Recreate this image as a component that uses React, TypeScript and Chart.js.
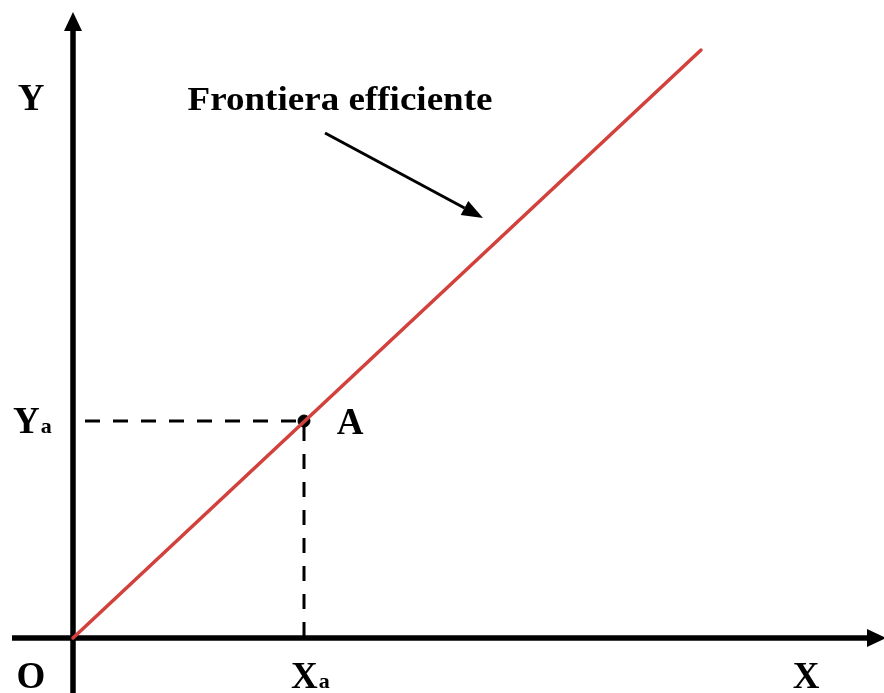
import React, { useEffect, useRef } from "react";
import { Chart, registerables } from "chart.js";

Chart.register(...registerables);

// Axis extents (data units, origin O at 0,0)
const xRange = [-0.73, 8.11];
const yRange = [-0.55, 6.38];

// Efficient frontier: straight line out of the origin
const frontierX = [0, 6.28];
const frontierY = [0, 5.88];

// Point A on the frontier
const pointAX = [2.31];
const pointAY = [2.17];

// Axis arrows: y axis runs from bottom edge to arrow tip, x axis from left stub to arrow tip
const yAxisSpan = [-0.55, 6.26];
const xAxisSpan = [-0.61, 8.13];

// Callout arrow for the frontier label: tail and head
const calloutX = [2.52, 4.1];
const calloutY = [5.05, 4.2];

const labelText = {
  frontier: "Frontiera efficiente",
  y: "Y",
  x: "X",
  origin: "O",
  point: "A",
  sub: "a",
};

const SERIF = '"Liberation Serif", "Times New Roman", serif';

const annotate = {
  id: "annotate",
  beforeDatasetsDraw(chart: any) {
    const { ctx, scales } = chart;
    const xs = scales.x;
    const ys = scales.y;
    const ox = xs.getPixelForValue(0);
    const oy = ys.getPixelForValue(0);
    ctx.save();
    ctx.strokeStyle = "#000";
    ctx.fillStyle = "#000";
    ctx.lineWidth = 5.5;
    // y axis
    const yTop = ys.getPixelForValue(yAxisSpan[1]);
    const yBot = ys.getPixelForValue(yAxisSpan[0]);
    ctx.beginPath();
    ctx.moveTo(ox, yBot);
    ctx.lineTo(ox, yTop + 14);
    ctx.stroke();
    ctx.beginPath();
    ctx.moveTo(ox, yTop);
    ctx.lineTo(ox - 9, yTop + 19);
    ctx.lineTo(ox + 9, yTop + 19);
    ctx.closePath();
    ctx.fill();
    // x axis
    const xL = xs.getPixelForValue(xAxisSpan[0]);
    const xR = xs.getPixelForValue(xAxisSpan[1]);
    ctx.beginPath();
    ctx.moveTo(xL, oy);
    ctx.lineTo(xR - 14, oy);
    ctx.stroke();
    ctx.beginPath();
    ctx.moveTo(xR, oy);
    ctx.lineTo(xR - 19, oy - 9);
    ctx.lineTo(xR - 19, oy + 9);
    ctx.closePath();
    ctx.fill();
    ctx.restore();
  },
  afterDatasetsDraw(chart: any) {
    const { ctx, scales } = chart;
    const xs = scales.x;
    const ys = scales.y;
    const px = (v: number) => xs.getPixelForValue(v);
    const py = (v: number) => ys.getPixelForValue(v);
    const ax = px(pointAX[0]);
    const ay = py(pointAY[0]);
    const ox = px(0);
    const oy = py(0);
    ctx.save();
    ctx.fillStyle = "#000";
    ctx.strokeStyle = "#000";
    ctx.textBaseline = "alphabetic";

    // callout arrow
    const tx = px(calloutX[0]);
    const ty = py(calloutY[0]);
    const hx = px(calloutX[1]);
    const hy = py(calloutY[1]);
    const ang = Math.atan2(hy - ty, hx - tx);
    const headLen = 21;
    const headW = 8;
    const bx = hx - headLen * Math.cos(ang);
    const by = hy - headLen * Math.sin(ang);
    ctx.lineWidth = 3;
    ctx.beginPath();
    ctx.moveTo(tx, ty);
    ctx.lineTo(bx, by);
    ctx.stroke();
    ctx.beginPath();
    ctx.moveTo(hx, hy);
    ctx.lineTo(bx + headW * Math.sin(ang), by - headW * Math.cos(ang));
    ctx.lineTo(bx - headW * Math.sin(ang), by + headW * Math.cos(ang));
    ctx.closePath();
    ctx.fill();

    // frontier label
    ctx.font = `bold 34px ${SERIF}`;
    ctx.textAlign = "center";
    const fw = ctx.measureText(labelText.frontier).width;
    ctx.save();
    ctx.translate(ox + 267, py(yAxisSpan[1]) + 98);
    ctx.scale(305 / fw, 1);
    ctx.fillText(labelText.frontier, 0, 0);
    ctx.restore();

    // axis labels
    ctx.font = `bold 37px ${SERIF}`;
    ctx.textAlign = "center";
    ctx.fillText(labelText.y, ox - 42, py(yAxisSpan[1]) + 98);
    ctx.fillText(labelText.origin, ox - 42, oy + 50);
    ctx.fillText(labelText.x, px(xAxisSpan[1]) - 80, oy + 50);
    ctx.fillText(labelText.point, ax + 46, ay + 13);

    // subscripted labels Ya and Xa
    ctx.textAlign = "left";
    ctx.font = `bold 37px ${SERIF}`;
    const yw = ctx.measureText(labelText.y).width;
    const yx = ox - 60;
    ctx.fillText(labelText.y, yx, ay + 12);
    ctx.font = `bold 22px ${SERIF}`;
    ctx.fillText(labelText.sub, yx + yw + 1, ay + 12);
    ctx.font = `bold 37px ${SERIF}`;
    const xw = ctx.measureText(labelText.x).width;
    const xx = ax - 13;
    ctx.fillText(labelText.x, xx, oy + 50);
    ctx.font = `bold 22px ${SERIF}`;
    ctx.fillText(labelText.sub, xx + xw + 1, oy + 50);
    ctx.restore();
  },
};

export default function App() {
  const ref = useRef<HTMLCanvasElement | null>(null);

  useEffect(() => {
    if (!ref.current) return;
    const chart = new Chart(ref.current, {
      type: "scatter",
      data: {
        datasets: [
          {
            type: "line",
            data: frontierX.map((x, i) => ({ x, y: frontierY[i] })),
            borderColor: "#d2413c",
            borderWidth: 3.5,
            pointRadius: 0,
            borderCapStyle: "round",
            clip: false,
          } as any,
          {
            type: "line",
            data: [
              { x: 0.12, y: pointAY[0] },
              { x: pointAX[0], y: pointAY[0] },
              { x: pointAX[0], y: 0 },
            ],
            borderColor: "#000",
            borderWidth: 3,
            borderDash: [15, 13],
            pointRadius: 0,
            clip: false,
          } as any,
          {
            data: pointAX.map((x, i) => ({ x, y: pointAY[i] })),
            backgroundColor: "#000",
            borderColor: "#000",
            pointRadius: 6,
            clip: false,
          } as any,
        ],
      },
      options: {
        animation: false,
        responsive: false,
        maintainAspectRatio: false,
        devicePixelRatio: 1,
        layout: { padding: 0, autoPadding: false },
        plugins: { legend: { display: false }, tooltip: { enabled: false } },
        scales: {
          x: { type: "linear", min: xRange[0], max: xRange[1], display: false },
          y: { type: "linear", min: yRange[0], max: yRange[1], display: false },
        },
      },
      plugins: [annotate],
    });
    return () => chart.destroy();
  }, []);

  return (
    <div style={{ position: "absolute", left: 0, top: 0, width: 884, height: 693, background: "#fff" }}>
      <canvas ref={ref} width={884} height={693} />
    </div>
  );
}
